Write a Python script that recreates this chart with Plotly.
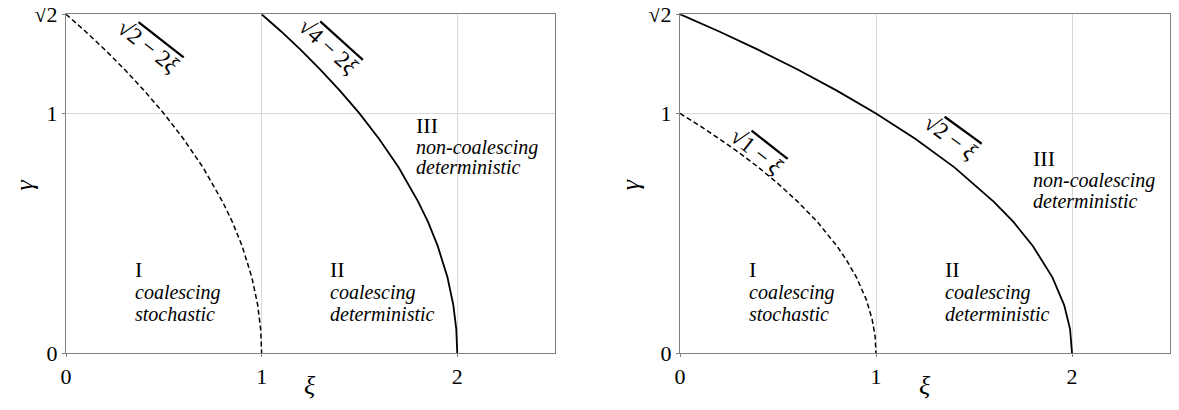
import plotly.graph_objects as go
from plotly.subplots import make_subplots

# left panel: boundaries gamma = sqrt(2-2xi) (dashed) and sqrt(4-2xi) (solid)
xi_a = [0, 0.1, 0.2, 0.3, 0.4, 0.5, 0.6, 0.7, 0.8, 0.85, 0.9, 0.95, 0.98, 0.99, 0.995, 1.0]
gam_a = [1.414, 1.342, 1.265, 1.183, 1.095, 1.0, 0.894, 0.775, 0.632, 0.548, 0.447, 0.316, 0.2, 0.141, 0.1, 0.0]
xi_b = [1.0, 1.1, 1.2, 1.3, 1.4, 1.5, 1.6, 1.7, 1.8, 1.85, 1.9, 1.95, 1.98, 1.99, 1.995, 2.0]
gam_b = [1.414, 1.342, 1.265, 1.183, 1.095, 1.0, 0.894, 0.775, 0.632, 0.548, 0.447, 0.316, 0.2, 0.141, 0.1, 0.0]

# right panel: sqrt(1-xi) (dashed) and sqrt(2-xi) (solid)
xi_c = [0, 0.1, 0.2, 0.3, 0.4, 0.5, 0.6, 0.7, 0.8, 0.85, 0.9, 0.95, 0.98, 0.99, 0.995, 1.0]
gam_c = [1.0, 0.949, 0.894, 0.837, 0.775, 0.707, 0.632, 0.548, 0.447, 0.387, 0.316, 0.224, 0.141, 0.1, 0.071, 0.0]
xi_d = [0, 0.2, 0.4, 0.6, 0.8, 1.0, 1.2, 1.4, 1.6, 1.7, 1.8, 1.9, 1.96, 1.98, 1.99, 2.0]
gam_d = [1.414, 1.342, 1.265, 1.183, 1.095, 1.0, 0.894, 0.775, 0.632, 0.548, 0.447, 0.316, 0.2, 0.141, 0.1, 0.0]

x_ticks = [0, 1, 2]
x_ticklabels = ["0", "1", "2"]
y_ticks = [0, 1, 1.4142]
y_ticklabels = ["0", "1", "√<span style='text-decoration:overline'>2</span>"]

FONT = "Liberation Serif, Times New Roman, serif"

fig = make_subplots(rows=1, cols=2)

fig.add_trace(go.Scatter(x=xi_a, y=gam_a, mode="lines",
                         line=dict(color="black", width=1.5, dash="5px,3px")), row=1, col=1)
fig.add_trace(go.Scatter(x=xi_b, y=gam_b, mode="lines",
                         line=dict(color="black", width=1.8)), row=1, col=1)
fig.add_trace(go.Scatter(x=xi_c, y=gam_c, mode="lines",
                         line=dict(color="black", width=1.5, dash="5px,3px")), row=1, col=2)
fig.add_trace(go.Scatter(x=xi_d, y=gam_d, mode="lines",
                         line=dict(color="black", width=1.8)), row=1, col=2)

axis_common = dict(showline=True, mirror=True, linecolor="#808080", linewidth=1.2,
                   showgrid=True, gridcolor="#d8d8d8", gridwidth=1, zeroline=False,
                   ticks="outside", ticklen=3, tickcolor="#808080", automargin=False,
                   ticklabeloverflow="allow",
                   tickfont=dict(family=FONT, size=22, color="black"))

fig.update_xaxes(range=[0, 2.5], tickvals=x_ticks, ticktext=x_ticklabels, **axis_common)
fig.update_yaxes(range=[0, 1.4143], tickvals=y_ticks, ticktext=y_ticklabels, **axis_common)

# page has an 8px body margin, so domains are shifted to line up with the reference
fig.update_layout(
    width=1179, height=410,
    margin=dict(l=0, r=0, t=0, b=0),
    plot_bgcolor="white", paper_bgcolor="white",
    showlegend=False,
    font=dict(family=FONT, color="black"),
    xaxis=dict(domain=[0.0492, 0.464]),
    xaxis2=dict(domain=[0.570, 0.9856]),
    yaxis=dict(domain=[0.1585, 0.985]),
    yaxis2=dict(domain=[0.1585, 0.985]),
)

# axis titles
for xp in [0.256, 0.778]:
    fig.add_annotation(x=xp, y=0.080, xref="paper", yref="paper", text="<i>ξ</i>", showarrow=False,
                       xanchor="center", yanchor="middle", font=dict(family=FONT, size=26))
for xp, xa in [(0.0, "left"), (0.5276, "center")]:
    fig.add_annotation(x=xp, y=0.568, xref="paper", yref="paper", text="<i>γ</i>", showarrow=False,
                       textangle=-90, xanchor=xa, yanchor="middle", font=dict(family=FONT, size=26))

def region(xref, yref, x, y, roman, line1, line2, dy):
    fig.add_annotation(x=x, y=y, xref=xref, yref=yref, text=roman, showarrow=False,
                       xanchor="left", yanchor="middle", font=dict(family=FONT, size=22))
    fig.add_annotation(x=x, y=y - dy - 0.01, xref=xref, yref=yref, text="<i>" + line1 + "</i>", showarrow=False,
                       xanchor="left", yanchor="middle", font=dict(family=FONT, size=20))
    fig.add_annotation(x=x, y=y - 2 * dy - 0.01, xref=xref, yref=yref, text="<i>" + line2 + "</i>", showarrow=False,
                       xanchor="left", yanchor="middle", font=dict(family=FONT, size=20))

region("x", "y", 0.34, 0.35, "I", "coalescing", "stochastic", 0.088)
region("x", "y", 1.34, 0.35, "II", "coalescing", "deterministic", 0.088)
region("x", "y", 1.78, 0.95, "III", "non-coalescing", "deterministic", 0.082)
region("x2", "y2", 0.34, 0.35, "I", "coalescing", "stochastic", 0.088)
region("x2", "y2", 1.34, 0.35, "II", "coalescing", "deterministic", 0.088)
region("x2", "y2", 1.79, 0.81, "III", "non-coalescing", "deterministic", 0.082)

def sqrt_label(xref, yref, x, y, inner, angle):
    fig.add_annotation(x=x, y=y, xref=xref, yref=yref, showarrow=False, textangle=angle,
                       text="√<span style='text-decoration:overline'>" + inner + "</span>",
                       font=dict(family=FONT, size=23))

sqrt_label("x", "y", 0.42, 1.28, "2 − 2<i>ξ</i>", 38)
sqrt_label("x", "y", 1.34, 1.28, "4 − 2<i>ξ</i>", 42)
sqrt_label("x2", "y2", 0.39, 0.84, "1 − <i>ξ</i>", 38)
sqrt_label("x2", "y2", 1.38, 0.9, "2 − <i>ξ</i>", 36)

fig.write_html("out.html")
